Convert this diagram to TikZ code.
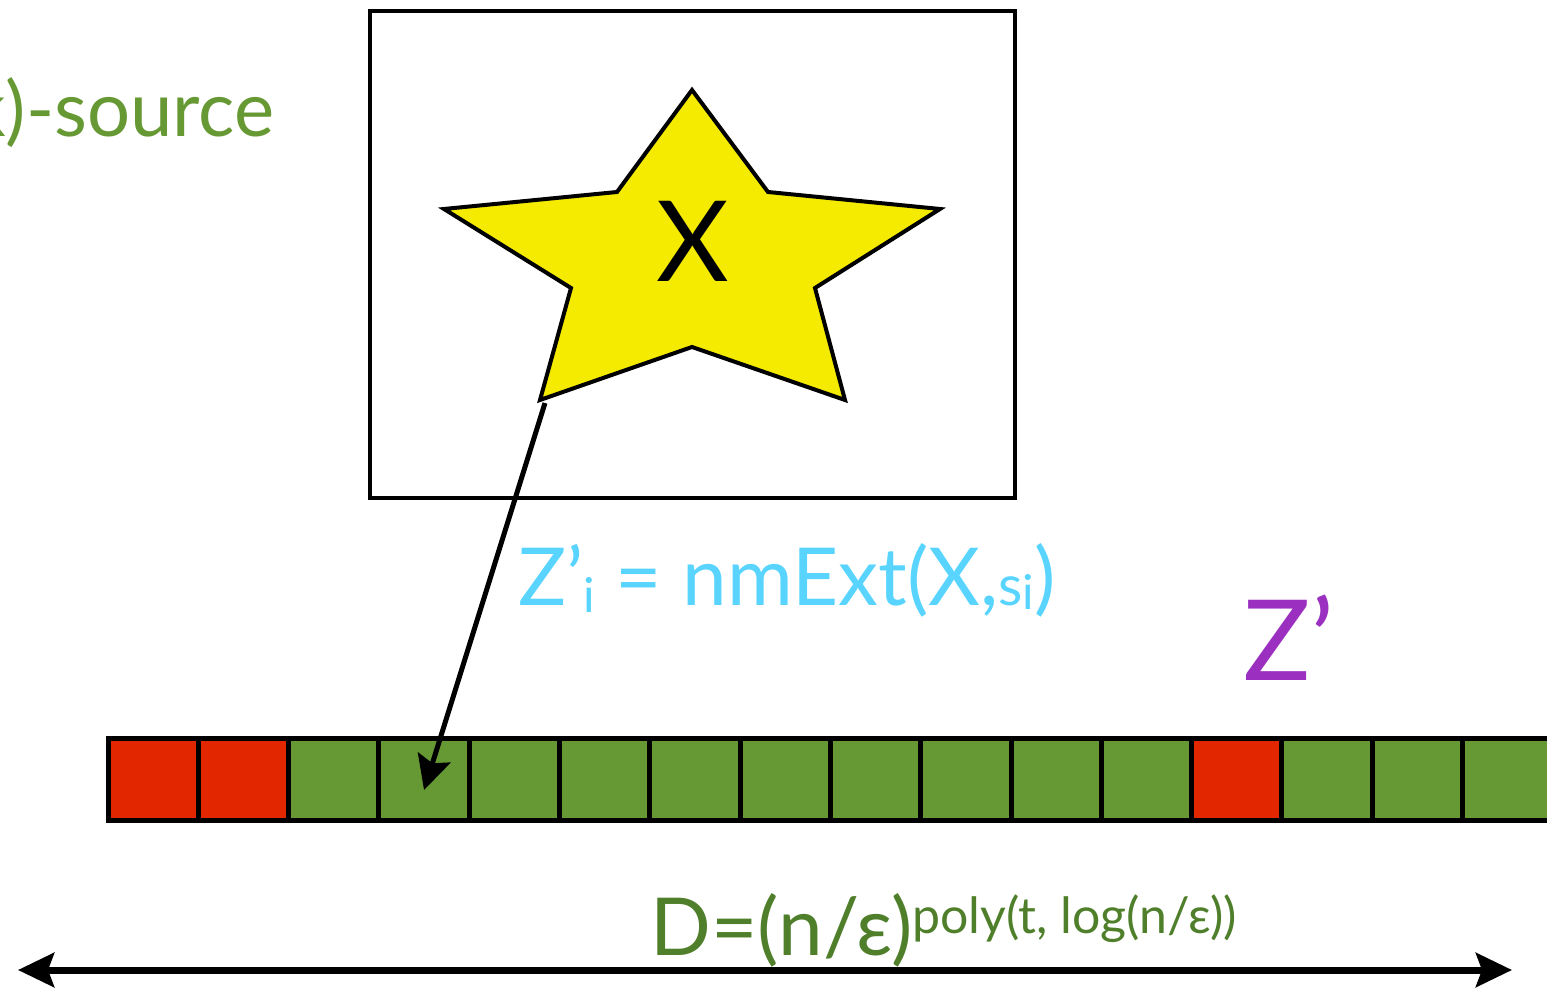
\documentclass[tikz,border=0pt]{standalone}
\usepackage{fontspec}
\setmainfont{Lato}
\usetikzlibrary{arrows.meta}
\definecolor{my_green}{HTML}{669933}
\definecolor{my_darkgreen}{HTML}{4F7F2A}
\definecolor{my_red}{HTML}{E22600}
\definecolor{my_yellow}{HTML}{F5EB00}
\definecolor{my_cyan}{HTML}{58D4FF}
\definecolor{my_purple}{HTML}{9B30C0}

\begin{document}
\begin{tikzpicture}[
    x=0.5pt, y=-0.5pt,  % one unit = one pixel of the reference, y downwards
    cell/.style={draw=black, line width=2.5pt, minimum width=45.15pt,
        minimum height=41pt, inner sep=0pt},
    label/.style={inner sep=0pt},
]
\useasboundingbox (0,0) rectangle (1547,988);

% ── Source box with the star ─────────────────────────────────────────────────
\draw[black, line width=2pt] (370,11) rectangle (1015,498);
\draw[black, fill=my_yellow, line width=2pt, line join=miter]
    (692,90) -- (768,192) -- (940,209) -- (815,288) -- (845,400)
    -- (692,347) -- (540,400) -- (571,288) -- (444,209) -- (617,192) -- cycle;
\coordinate (startip) at (545,403);
\node[label, anchor=base, font=\fontsize{56}{60}\selectfont] (xsym) at (693,282) {X};

\node[label, anchor=base east, text=my_green, font=\fontsize{38}{42}\selectfont]
    (source) at (275,137) {(n,k)-source};

% ── Row of cells ─────────────────────────────────────────────────────────────
\foreach \i in {0,...,15} {
    \ifnum\i<2 \def\cellcol{my_red}\else
      \ifnum\i=12 \def\cellcol{my_red}\else \def\cellcol{my_green}\fi\fi
    \node[cell, fill=\cellcol] (c\i) at ({153.15+90.3*\i},779) {};
}

% ── Arrow from the source into one cell ──────────────────────────────────────
\coordinate (hit) at ([yshift=-5.5pt]c3.center);
\draw[black, line width=2.5pt, -{Stealth[length=17pt, width=17pt, inset=3pt]}]
    (startip) -- (hit);

% ── Labels ───────────────────────────────────────────────────────────────────
\node[label, anchor=base west, text=my_cyan, font=\fontsize{40}{44}\selectfont]
    (zi) at (518,605)
    {Z’\raisebox{-3.5pt}{\fontsize{24}{24}\selectfont i} = nmExt(X,{\fontsize{28}{28}\selectfont s\raisebox{-2pt}{\fontsize{24}{24}\selectfont i}})};
\node[label, anchor=base west, text=my_purple, font=\fontsize{56}{60}\selectfont]
    (zp) at (1243,680) {Z’};

% ── Length of the row ────────────────────────────────────────────────────────
\node[label, anchor=base west, text=my_darkgreen, font=\fontsize{40}{44}\selectfont]
    (dlen) at (650,955)
    {D=(n/ε)\raisebox{11pt}{\fontsize{25}{27}\selectfont poly(t, log(n/ε))}};
\coordinate (dleft) at (18,970);
\coordinate (dright) at (1512,970);
\draw[black, line width=3.5pt,
    {Stealth[length=18pt, width=17pt, inset=3pt]}-{Stealth[length=18pt, width=17pt, inset=3pt]}]
    (dleft) -- (dright);

\end{tikzpicture}
\end{document}
